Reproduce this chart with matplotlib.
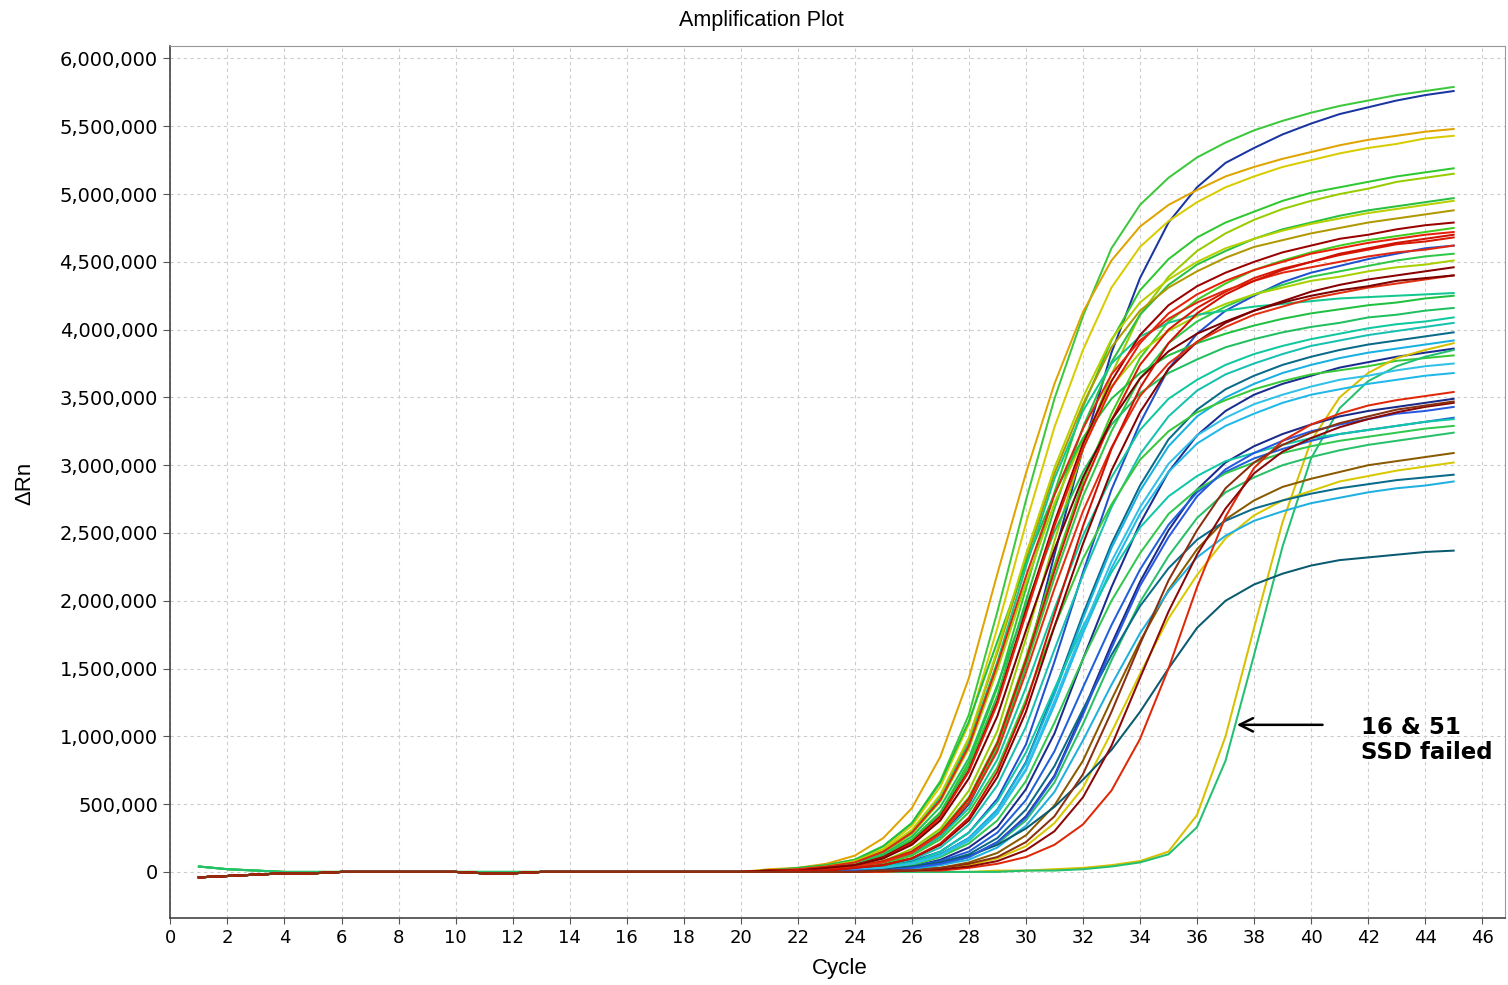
import matplotlib.pyplot as plt
import matplotlib.ticker as mticker

# qPCR amplification data, delta Rn in units of 10,000
cycles = list(range(1, 46))

# cycles 1-20 (flat baseline, two variants)
base_low = [-4, -3, -2, -1, -1, 0, 0, 0, 0, 0, -1, -1, 0, 0, 0, 0, 0, 0, 0, 0]
base_high = [4, 2, 1, 0, 0, 0, 0, 0, 0, 0, 0, 0, 0, 0, 0, 0, 0, 0, 0, 0]

# cycles 21-45 for each well
w01 = [1, 2, 5, 9, 19, 36, 67, 116, 192, 274, 349, 410, 460, 492, 512, 527, 538, 547, 554, 560, 565, 569, 573, 576, 579]
w02 = [0, 1, 2, 4, 6, 13, 26, 50, 91, 152, 234, 312, 383, 438, 479, 505, 523, 534, 544, 552, 559, 564, 569, 573, 576]
w03 = [2, 3, 6, 12, 25, 47, 85, 143, 220, 294, 360, 413, 451, 476, 492, 503, 513, 520, 526, 531, 536, 540, 543, 546, 548]
w04 = [1, 2, 4, 9, 17, 34, 63, 109, 180, 257, 328, 385, 431, 461, 480, 494, 505, 513, 520, 525, 530, 534, 537, 541, 543]
w05 = [1, 2, 3, 6, 12, 24, 44, 81, 136, 209, 280, 343, 392, 429, 452, 468, 479, 487, 495, 501, 505, 509, 513, 516, 519]
w06 = [0, 1, 2, 4, 8, 17, 32, 60, 104, 172, 244, 312, 367, 411, 439, 458, 471, 481, 489, 495, 500, 504, 509, 512, 515]
w07 = [1, 2, 3, 6, 11, 23, 43, 78, 130, 200, 268, 328, 376, 411, 433, 448, 458, 467, 474, 479, 484, 488, 491, 494, 497]
w08 = [1, 2, 4, 8, 16, 30, 56, 98, 162, 230, 294, 345, 387, 414, 431, 443, 453, 461, 466, 471, 475, 479, 482, 485, 488]
w09 = [1, 1, 3, 5, 11, 22, 41, 75, 126, 193, 258, 316, 362, 396, 418, 432, 442, 450, 457, 462, 467, 470, 474, 477, 479]
w10 = [0, 1, 2, 4, 8, 15, 30, 55, 96, 158, 226, 288, 338, 379, 406, 422, 434, 444, 451, 457, 462, 466, 469, 472, 475]
w11 = [1, 1, 3, 5, 10, 21, 40, 74, 124, 190, 255, 312, 357, 390, 412, 426, 436, 444, 450, 456, 460, 464, 467, 470, 472]
w12 = [0, 1, 2, 4, 8, 15, 29, 54, 95, 156, 222, 284, 333, 374, 400, 416, 428, 438, 445, 450, 455, 459, 463, 465, 468]
w13 = [0, 0, 1, 2, 4, 8, 15, 29, 54, 94, 155, 221, 282, 331, 371, 397, 414, 425, 435, 442, 447, 452, 456, 460, 462]
w14 = [0, 1, 2, 4, 7, 15, 29, 53, 92, 152, 217, 277, 325, 364, 390, 406, 417, 426, 433, 439, 443, 447, 451, 454, 456]
w15 = [1, 2, 4, 7, 14, 28, 52, 91, 149, 213, 272, 319, 358, 383, 399, 410, 419, 426, 431, 436, 439, 443, 446, 448, 451]
w16 = [0, 1, 1, 3, 5, 10, 20, 38, 70, 118, 181, 242, 296, 339, 371, 391, 405, 414, 421, 428, 433, 437, 440, 443, 446]
w17 = [0, 1, 2, 4, 7, 14, 28, 51, 89, 147, 209, 266, 313, 351, 375, 391, 402, 411, 417, 423, 427, 431, 434, 437, 440]
w18 = [1, 3, 5, 9, 19, 36, 66, 111, 170, 228, 279, 320, 349, 368, 381, 390, 397, 403, 408, 412, 415, 418, 420, 423, 425]
w19 = [1, 2, 3, 7, 13, 26, 48, 84, 138, 196, 251, 295, 330, 353, 368, 378, 387, 393, 398, 402, 405, 409, 411, 414, 416]
w20 = [0, 1, 2, 3, 7, 13, 26, 47, 83, 136, 194, 248, 291, 326, 349, 363, 374, 382, 388, 393, 397, 401, 404, 406, 409]
w21 = [0, 1, 1, 2, 5, 9, 18, 35, 64, 107, 164, 219, 269, 308, 336, 355, 367, 375, 382, 388, 392, 396, 399, 402, 405]
w22 = [0, 0, 1, 2, 3, 6, 13, 25, 46, 81, 133, 190, 242, 285, 319, 341, 356, 366, 374, 380, 385, 389, 392, 395, 398]
w23 = [0, 0, 1, 2, 3, 6, 13, 25, 46, 80, 131, 187, 239, 281, 314, 336, 350, 360, 368, 374, 379, 383, 386, 389, 392]
w24 = [0, 0, 1, 1, 2, 4, 9, 18, 33, 61, 102, 157, 210, 257, 295, 322, 340, 352, 360, 366, 372, 376, 380, 383, 386]
w25 = [0, 1, 2, 3, 6, 12, 24, 44, 77, 127, 181, 231, 271, 304, 325, 339, 348, 356, 362, 367, 370, 373, 377, 379, 381]
w16_ssd = [0, 0, 0, 0, 0, 0, 0, 0, 1, 1, 2, 3, 5, 8, 15, 42, 100, 180, 258, 318, 350, 368, 379, 385, 390]
w51_ssd = [0, 0, 0, 0, 0, 0, 0, 0, 0, 1, 1, 2, 4, 7, 13, 33, 82, 160, 240, 305, 342, 362, 373, 380, 385]
w29 = [0, 0, 1, 1, 3, 6, 12, 23, 43, 75, 123, 176, 224, 264, 295, 316, 329, 338, 346, 352, 356, 360, 363, 366, 368]
w30 = [0, 0, 0, 0, 0, 1, 1, 3, 6, 11, 20, 35, 60, 98, 150, 210, 262, 298, 318, 330, 338, 344, 348, 351, 354]
w31 = [0, 0, 0, 0, 1, 1, 2, 4, 8, 16, 30, 55, 93, 143, 192, 234, 268, 294, 310, 320, 328, 334, 339, 343, 346]
w32 = [0, 0, 0, 1, 1, 3, 6, 11, 22, 41, 71, 118, 168, 214, 252, 282, 302, 314, 323, 330, 336, 340, 343, 346, 349]
w33 = [0, 0, 1, 1, 2, 4, 8, 15, 29, 53, 89, 136, 182, 223, 256, 280, 295, 305, 312, 318, 323, 326, 329, 332, 335]
w34 = [0, 1, 1, 2, 4, 7, 15, 29, 52, 88, 135, 181, 221, 254, 277, 292, 303, 309, 315, 320, 323, 326, 329, 332, 334]
w35 = [0, 0, 1, 1, 3, 5, 11, 21, 38, 67, 110, 157, 200, 235, 264, 282, 294, 302, 309, 314, 318, 321, 324, 327, 329]
w36 = [0, 0, 0, 1, 1, 3, 5, 11, 21, 38, 66, 109, 156, 199, 233, 261, 280, 291, 300, 306, 311, 315, 318, 321, 324]
w37 = [0, 0, 0, 0, 1, 2, 3, 7, 14, 27, 49, 82, 127, 170, 208, 238, 260, 274, 284, 290, 295, 300, 303, 306, 309]
w38 = [0, 0, 0, 0, 1, 1, 2, 5, 10, 19, 36, 62, 103, 146, 187, 219, 246, 263, 274, 281, 288, 292, 296, 299, 302]
w39 = [0, 0, 0, 1, 2, 3, 7, 13, 25, 46, 78, 120, 160, 196, 224, 245, 259, 268, 274, 279, 283, 286, 289, 291, 293]
w40 = [0, 0, 0, 1, 1, 2, 5, 9, 18, 34, 59, 97, 138, 176, 207, 232, 248, 259, 266, 272, 276, 280, 283, 285, 288]
w41 = [0, 0, 1, 1, 2, 4, 7, 12, 20, 32, 48, 68, 90, 118, 150, 180, 200, 212, 220, 226, 230, 232, 234, 236, 237]
w42 = [1, 2, 4, 7, 15, 29, 53, 93, 153, 218, 278, 327, 367, 392, 408, 420, 429, 436, 442, 446, 450, 454, 457, 459, 462]
w43 = [1, 1, 3, 5, 10, 20, 38, 69, 115, 178, 238, 291, 333, 364, 384, 397, 406, 414, 420, 425, 429, 432, 436, 438, 440]
w44 = [1, 2, 4, 8, 15, 29, 55, 95, 155, 225, 290, 340, 375, 395, 405, 411, 414, 417, 419, 421, 423, 424, 425, 426, 427]
w45 = [0, 0, 1, 2, 3, 6, 12, 24, 44, 76, 126, 179, 229, 269, 301, 322, 335, 345, 352, 358, 363, 366, 370, 373, 375]
w46 = [0, 1, 1, 3, 5, 10, 21, 40, 74, 124, 190, 255, 312, 357, 390, 412, 426, 436, 444, 450, 456, 460, 464, 467, 470]
w47 = [1, 2, 4, 8, 16, 31, 57, 99, 164, 234, 298, 350, 393, 420, 437, 450, 460, 467, 473, 478, 482, 486, 489, 492, 495]
w48 = [0, 0, 0, 1, 1, 3, 6, 11, 22, 40, 70, 116, 165, 211, 247, 277, 297, 309, 318, 325, 330, 334, 338, 340, 343]
w49 = [0, 0, 0, 0, 1, 1, 3, 6, 11, 22, 41, 72, 118, 168, 215, 252, 283, 302, 315, 324, 331, 336, 341, 344, 347]

wells = [w01, w02, w03, w04, w05, w06, w07, w08, w09, w10, w11, w12, w13, w14,
         w15, w16, w17, w18, w19, w20, w21, w22, w23, w24, w25, w16_ssd, w51_ssd,
         w29, w30, w31, w32, w33, w34, w35, w36, w37, w38, w39, w40, w41,
         w42, w43, w44, w45, w46, w47, w48, w49]
well_colors = ['#3cc83c', '#1a34a0', '#e0a400', '#d8cc00', '#30c830', '#98cc00',
               '#28c040', '#b09800', '#9a0000', '#40cc20', '#e82008', '#d81800',
               '#2050d0', '#30c848', '#a8d000', '#880000', '#e03010', '#20c040',
               '#20c060', '#10c8a0', '#18c0b0', '#0a6a8a', '#18b0e0', '#1a2c90',
               '#38c838', '#d8c000', '#22c070', '#20b8e8', '#e02808', '#8a0808',
               '#1a2a88', '#2060d8', '#10c8a8', '#30c850', '#28c068', '#8a5a00',
               '#d8c800', '#0a6a8a', '#20b0e0', '#0a5a70',
               '#e02810', '#7a0000', '#10c890', '#30c0e8', '#d01000', '#b8d000',
               '#2858e0', '#8a3010']
starts_high = [w01, w05, w51_ssd, w25]
red_wells = [w09, w11, w12, w16, w17, w30, w31, w42, w43, w46, w49]

fig = plt.figure(figsize=(15.08, 9.85), dpi=100)
ax = fig.add_axes([0.113, 0.068, 0.885, 0.885])

for w, col in zip(wells, well_colors):
    base = base_high if any(w is s for s in starts_high) else base_low
    z = 3 if any(w is r for r in red_wells) else 2
    vals = [v * 10000 for v in base + w]
    ax.plot(cycles, vals, color=col, lw=1.45, solid_joinstyle='round', zorder=z)

ax.set_xlim(0, 46.8)
ax.set_ylim(-340000, 6090000)
ax.xaxis.set_major_locator(mticker.MultipleLocator(2))
ax.yaxis.set_major_locator(mticker.MultipleLocator(500000))
ax.yaxis.set_major_formatter(mticker.FuncFormatter(lambda v, p: f'{int(v):,}'))
ax.tick_params(axis='y', labelsize=14, length=5, color='#555555', pad=4)
ax.tick_params(axis='x', labelsize=13, length=4, color='#555555', pad=4)

ax.grid(True, color='#cccccc', linestyle=(0, (3, 3)), lw=0.8)
ax.set_axisbelow(True)
for side in ['top', 'right']:
    ax.spines[side].set_color('#999999')
for side in ['left', 'bottom']:
    ax.spines[side].set_color('#444444')
    ax.spines[side].set_linewidth(1.2)

fig.text(0.557, 0.017, 'Cycle', ha='center', va='center', fontsize=16,
         family='Liberation Sans')
fig.text(0.0166, 0.509, '\u0394Rn', ha='center', va='center', rotation=90,
         fontsize=16, family='Liberation Sans')
fig.text(0.505, 0.979, 'Amplification Plot', ha='center', va='center',
         fontsize=15.5, family='Liberation Sans')

ax.annotate('', xy=(37.3, 1085000), xytext=(40.5, 1085000),
            arrowprops=dict(arrowstyle='->', lw=1.8, color='black', mutation_scale=24))
ax.text(41.75, 975000, '16 & 51\nSSD failed', fontsize=16.5, fontweight='bold',
        ha='left', va='center', linespacing=1.1)

fig.savefig('out.png', dpi=100)
